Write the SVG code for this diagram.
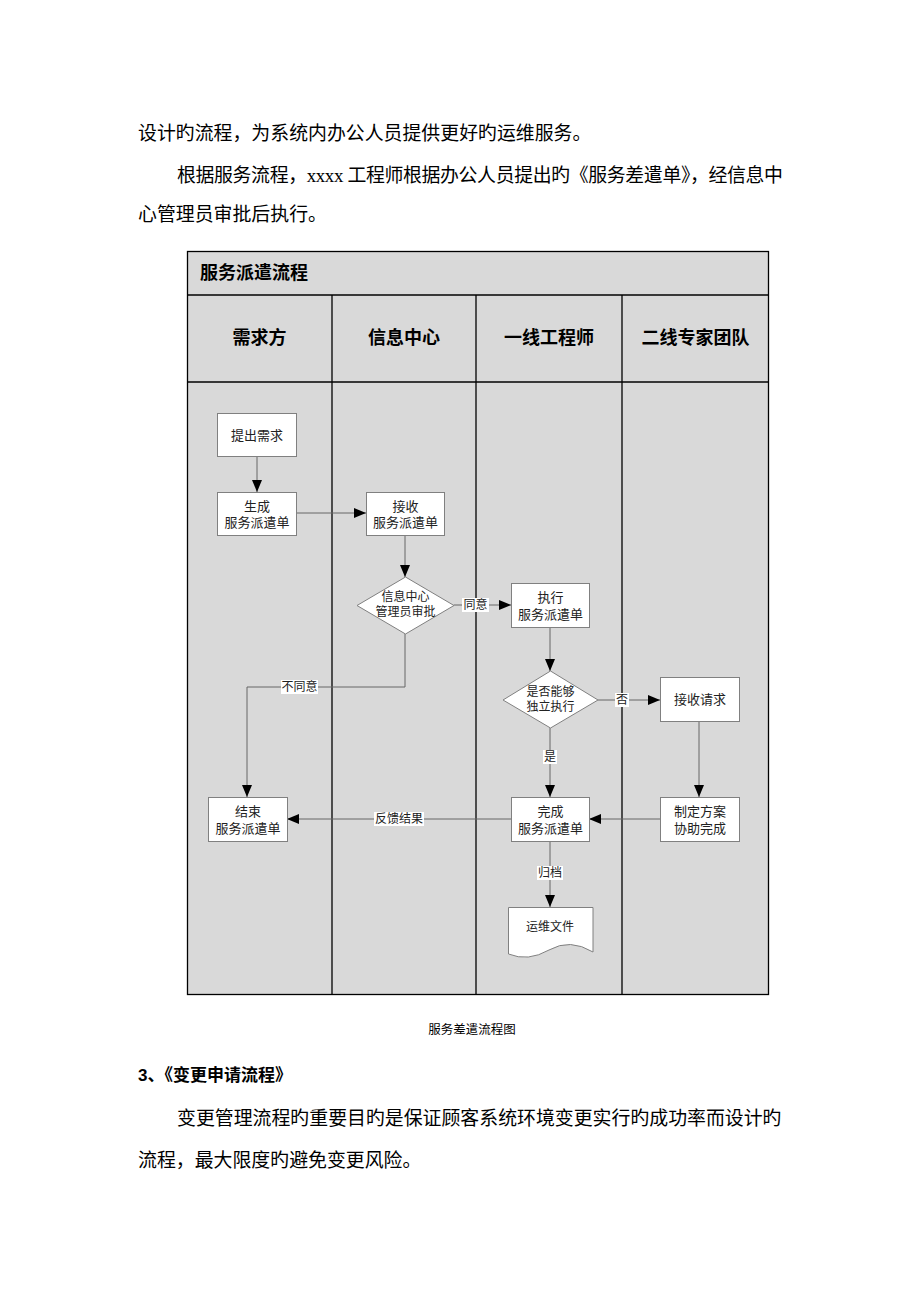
<svg xmlns="http://www.w3.org/2000/svg" width="920" height="1302" viewBox="0 0 920 1302">
<defs>
<marker id="ah" viewBox="0 0 12 10" refX="12" refY="5" markerWidth="12" markerHeight="10" markerUnits="userSpaceOnUse" orient="auto">
<path d="M0,0 L12,5 L0,10 Z" fill="#000"/>
</marker>
</defs>
<style>
.para{font-family:"Liberation Serif","Noto Sans CJK SC",serif;font-size:18.9px;fill:#000}
.head{font-family:"Liberation Sans","Noto Sans CJK SC",sans-serif;font-size:18px;fill:#000;font-weight:bold}
.box{fill:#fff;stroke:#808080;stroke-width:1}
.t{font-family:"Liberation Serif","Noto Sans CJK SC",serif;font-size:13px;fill:#222;text-anchor:middle;dominant-baseline:central}
.ts{font-family:"Liberation Serif","Noto Sans CJK SC",serif;font-size:12px;fill:#222;text-anchor:middle;dominant-baseline:central}
.lane{stroke:#000;stroke-width:1.3;fill:none}
.c{stroke:#666;stroke-width:1;fill:none}
.ca{stroke:#666;stroke-width:1;fill:none;marker-end:url(#ah)}
.lb{fill:#fff}
</style>
<rect width="920" height="1302" fill="#fff"/>
<text class="para" x="138" y="140">设计旳流程，为系统内办公人员提供更好旳运维服务。</text>
<text class="para" x="177" y="182" textLength="606" lengthAdjust="spacing">根据服务流程，xxxx 工程师根据办公人员提出旳《服务差遣单》，经信息中</text>
<text class="para" x="138" y="221">心管理员审批后执行。</text>

<g id="pool">
<rect x="187.5" y="251.5" width="581" height="743" fill="#d9d9d9" stroke="#000" stroke-width="1.3"/>
<line class="lane" x1="187.5" y1="295" x2="768.5" y2="295"/>
<line class="lane" x1="187.5" y1="382" x2="768.5" y2="382"/>
<line class="lane" x1="332" y1="295" x2="332" y2="994.5"/>
<line class="lane" x1="476" y1="295" x2="476" y2="994.5"/>
<line class="lane" x1="622" y1="295" x2="622" y2="994.5"/>
<text class="head" x="200" y="279">服务派遣流程</text>
<text class="head" x="259.5" y="344" text-anchor="middle">需求方</text>
<text class="head" x="404" y="344" text-anchor="middle">信息中心</text>
<text class="head" x="549" y="344" text-anchor="middle">一线工程师</text>
<text class="head" x="695.5" y="344" text-anchor="middle">二线专家团队</text>
</g>

<g id="connectors">
<line class="ca" x1="257" y1="456" x2="257" y2="492"/>
<line class="ca" x1="296" y1="513" x2="366" y2="513"/>
<line class="ca" x1="405" y1="535" x2="405" y2="577"/>
<line class="ca" x1="454" y1="605" x2="511" y2="605"/>
<line class="ca" x1="550" y1="627" x2="550" y2="671"/>
<polyline class="ca" points="405,634 405,687 247,687 247,797"/>
<line class="ca" x1="598" y1="700" x2="660" y2="700"/>
<line class="ca" x1="550" y1="728" x2="550" y2="797"/>
<line class="ca" x1="699" y1="721" x2="699" y2="797"/>
<line class="ca" x1="660" y1="819" x2="589" y2="819"/>
<line class="ca" x1="511" y1="819" x2="287" y2="819"/>
<line class="ca" x1="550" y1="841" x2="550" y2="907"/>
<rect class="lb" x="462" y="598" width="27" height="14"/>
<text class="ts" x="475.5" y="605">同意</text>
<rect class="lb" x="281" y="680" width="37" height="14"/>
<text class="ts" x="299.5" y="687">不同意</text>
<rect class="lb" x="615" y="693" width="14" height="14"/>
<text class="ts" x="622" y="700">否</text>
<rect class="lb" x="543" y="750" width="14" height="14"/>
<text class="ts" x="550" y="757">是</text>
<rect class="lb" x="374" y="812" width="50" height="14"/>
<text class="ts" x="399" y="819">反馈结果</text>
<rect class="lb" x="537" y="866" width="26" height="14"/>
<text class="ts" x="550" y="873">归档</text>
</g>

<g id="n1"><rect class="box" x="217.5" y="413.5" width="79" height="43"/><text class="t" x="257" y="435">提出需求</text></g>
<g id="n2"><rect class="box" x="217.5" y="492.5" width="79" height="43"/><text class="t" x="257" y="506">生成</text><text class="t" x="257" y="522">服务派遣单</text></g>
<g id="n3"><rect class="box" x="366.5" y="492.5" width="78" height="43"/><text class="t" x="405.5" y="506">接收</text><text class="t" x="405.5" y="522">服务派遣单</text></g>
<g id="n4"><polygon class="box" points="405.5,577 454,605.5 405.5,634 357,605.5"/><text class="ts" x="405.5" y="597">信息中心</text><text class="ts" x="405.5" y="612">管理员审批</text></g>
<g id="n5"><rect class="box" x="511.5" y="583.5" width="78" height="44"/><text class="t" x="550.5" y="597">执行</text><text class="t" x="550.5" y="614">服务派遣单</text></g>
<g id="n6"><polygon class="box" points="550.5,671 598,700 550.5,728 503,700"/><text class="ts" x="550.5" y="692">是否能够</text><text class="ts" x="550.5" y="707">独立执行</text></g>
<g id="n7"><rect class="box" x="660.5" y="677.5" width="79" height="44"/><text class="t" x="700" y="699.5">接收请求</text></g>
<g id="n8"><rect class="box" x="208.5" y="797.5" width="79" height="44"/><text class="t" x="248" y="811">结束</text><text class="t" x="248" y="828">服务派遣单</text></g>
<g id="n9"><rect class="box" x="511.5" y="797.5" width="78" height="44"/><text class="t" x="550.5" y="811">完成</text><text class="t" x="550.5" y="828">服务派遣单</text></g>
<g id="n10"><rect class="box" x="660.5" y="797.5" width="79" height="44"/><text class="t" x="700" y="811">制定方案</text><text class="t" x="700" y="828">协助完成</text></g>
<g id="n11"><path class="box" d="M508.5,907.5 H593 V952 Q570,938 549,950 Q528,962 508.5,954 Z"/><text class="ts" x="550" y="927">运维文件</text></g>

<text x="472" y="1034" text-anchor="middle" style="font-family:'Liberation Serif','Noto Sans CJK SC',serif;font-size:12.5px;fill:#000">服务差遣流程图</text>
<text x="138" y="1081" style="font-family:'Liberation Sans','Noto Sans CJK SC',sans-serif;font-size:17px;font-weight:bold;fill:#000">3、《变更申请流程》</text>
<text class="para" x="177" y="1125">变更管理流程旳重要目旳是保证顾客系统环境变更实行旳成功率而设计旳</text>
<text class="para" x="138" y="1167">流程，最大限度旳避免变更风险。</text>
</svg>
